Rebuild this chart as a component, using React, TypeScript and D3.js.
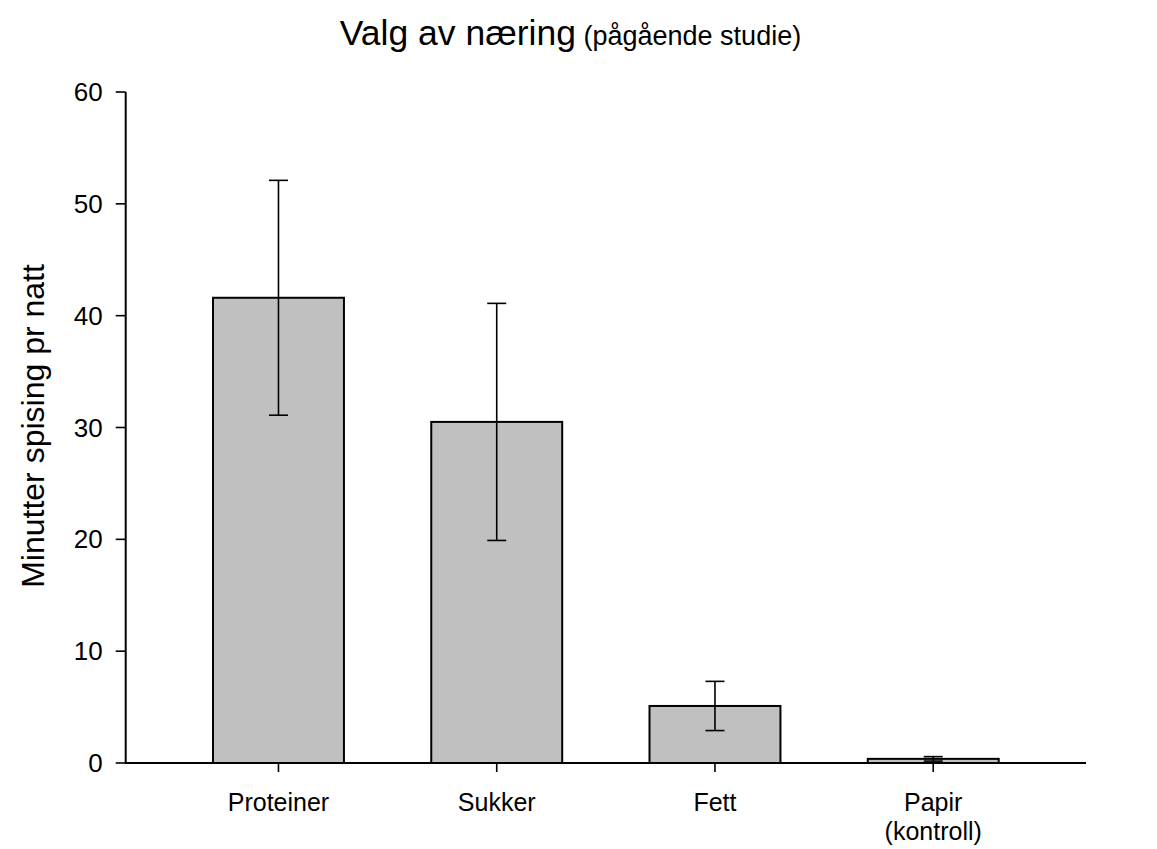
import React from "react";
import * as d3 from "d3";

const categories = ["Proteiner", "Sukker", "Fett", "Papir"];
const categoryLabels = [["Proteiner"], ["Sukker"], ["Fett"], ["Papir", "(kontroll)"]];
const means = [41.6, 30.5, 5.1, 0.37];
const errors = [10.5, 10.6, 2.2, 0.2];
const yTicks = [0, 10, 20, 30, 40, 50, 60];

const W = 1157;
const H = 849;
const FONT = "Arial, 'Liberation Sans', Helvetica, sans-serif";

export default function App() {
  const y = d3.scaleLinear().domain([0, 60]).range([763, 92]);
  const x = d3
    .scaleBand<string>()
    .domain(categories)
    .range([125.7, 1086])
    .paddingInner(0.4)
    .paddingOuter(0.4);
  const bw = x.bandwidth();
  const capHalf = 9.5;
  const [x0, x1] = x.range();
  const [yBottom, yTop] = y.range();

  return (
    <svg
      width={W}
      height={H}
      style={{ position: "absolute", left: 0, top: 0, background: "#fff" }}
      fontFamily={FONT}
    >
      <rect x={0} y={0} width={W} height={H} fill="#fff" />
      {/* title */}
      <text x={570.5} y={45} textAnchor="middle" fill="#000">
        <tspan fontSize={35.5}>Valg av næring</tspan>
        <tspan fontSize={27}> (pågående studie)</tspan>
      </text>

      {/* bars */}
      {categories.map((c, i) => (
        <rect
          key={c}
          x={x(c)!}
          y={y(means[i])}
          width={bw}
          height={y(0) - y(means[i])}
          fill="#c0c0c0"
          stroke="#000"
          strokeWidth={2}
        />
      ))}

      {/* error bars */}
      {categories.map((c, i) => {
        const cx = x(c)! + bw / 2;
        const hi = y(means[i] + errors[i]);
        const lo = y(means[i] - errors[i]);
        return (
          <g key={c + "e"} stroke="#000" strokeWidth={1.6}>
            <line x1={cx} x2={cx} y1={hi} y2={lo} />
            <line x1={cx - capHalf} x2={cx + capHalf} y1={hi} y2={hi} />
            <line x1={cx - capHalf} x2={cx + capHalf} y1={lo} y2={lo} />
          </g>
        );
      })}

      {/* axes */}
      <line x1={x0} x2={x0} y1={yTop} y2={yBottom} stroke="#000" strokeWidth={2} />
      <line x1={x0 - 1} x2={x1} y1={yBottom} y2={yBottom} stroke="#000" strokeWidth={2} />

      {yTicks.map((t) => (
        <g key={t}>
          <line x1={x0 - 10} x2={x0} y1={y(t)} y2={y(t)} stroke="#000" strokeWidth={1.6} />
          <text
            x={x0 - 23}
            y={y(t)}
            dy="0.35em"
            textAnchor="end"
            fontSize={26}
            fill="#000"
          >
            {t}
          </text>
        </g>
      ))}

      {categories.map((c, i) => {
        const cx = x(c)! + bw / 2;
        return (
          <g key={c + "t"}>
            <line x1={cx} x2={cx} y1={yBottom} y2={yBottom + 9} stroke="#000" strokeWidth={1.6} />
            {categoryLabels[i].map((l, j) => (
              <text
                key={l}
                x={cx}
                y={811 + j * 29}
                textAnchor="middle"
                fontSize={25}
                fill="#000"
              >
                {l}
              </text>
            ))}
          </g>
        );
      })}

      {/* y label */}
      <text
        transform={`translate(43.5, 426) rotate(-90)`}
        textAnchor="middle"
        fontSize={32}
        fill="#000"
      >
        Minutter spising pr natt
      </text>
    </svg>
  );
}
